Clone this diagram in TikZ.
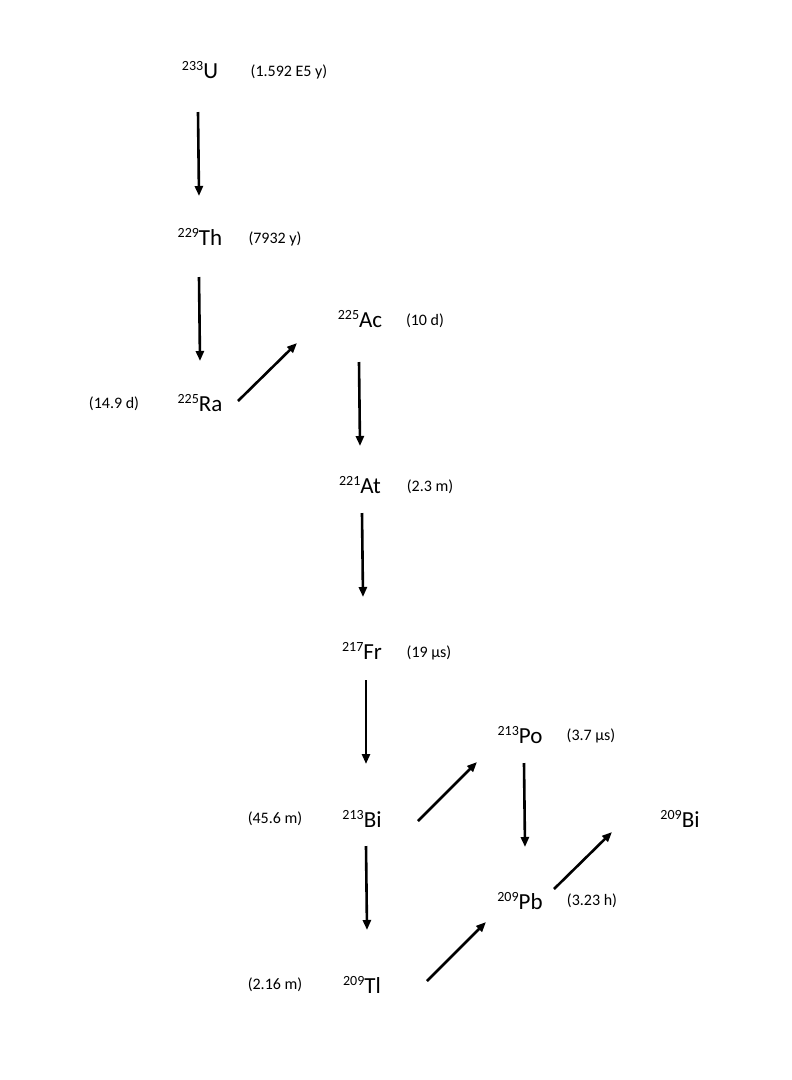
\documentclass[tikz,border=0pt]{standalone}
\usepackage{fontspec}
\setmainfont{Carlito}
\usetikzlibrary{arrows.meta}
\newcommand\iso[2]{\raisebox{8pt}{\fontsize{14}{14}\selectfont #1}#2}
\begin{document}
\begin{tikzpicture}[x=1pt,y=-1pt,
  el/.style={inner sep=0pt,font=\fontsize{23}{23}\selectfont},
  hl/.style={inner sep=0pt,font=\fontsize{16}{16}\selectfont},
  arr/.style={line width=2.6pt,-{Triangle[length=10pt,width=8pt]}}]
\useasboundingbox (0,0) rectangle (792,1080);
\node[el] (U) at (200,70) {\iso{233}{U}};
\node[hl] (tU) at (289,72) {(1.592 E5 y)};
\node[el] (Th) at (200,237) {\iso{229}{Th}};
\node[hl] (tTh) at (275,239) {(7932 y)};
\node[el] (Ra) at (200,403) {\iso{225}{Ra}};
\node[hl] (tRa) at (114,404) {(14.9 d)};
\node[el] (Ac) at (360,319) {\iso{225}{Ac}};
\node[hl] (tAc) at (425,321) {(10 d)};
\node[el] (At) at (360,485) {\iso{221}{At}};
\node[hl] (tAt) at (430,487) {(2.3 m)};
\node[el] (Fr) at (362,651) {\iso{217}{Fr}};
\node[hl] (tFr) at (429,653) {(19 µs)};
\node[el] (Bi) at (362,819) {\iso{213}{Bi}};
\node[hl] (tBi) at (275,819) {(45.6 m)};
\node[el] (Po) at (520,735) {\iso{213}{Po}};
\node[hl] (tPo) at (591,736) {(3.7 µs)};
\node[el] (Pb) at (520,901) {\iso{209}{Pb}};
\node[hl] (tPb) at (592,901) {(3.23 h)};
\node[el] (Tl) at (362,985) {\iso{209}{Tl}};
\node[hl] (tTl) at (275,985) {(2.16 m)};
\node[el] (Bf) at (680,819) {\iso{209}{Bi}};
\coordinate (a1) at (198,112); \coordinate (b1) at (199,196);
\coordinate (a2) at (199,277); \coordinate (b2) at (200,361);
\coordinate (a3) at (238,401); \coordinate (b3) at (297,343);
\coordinate (a4) at (359,362); \coordinate (b4) at (360,446);
\coordinate (a5) at (362,513); \coordinate (b5) at (363,597);
\coordinate (a6) at (366,680); \coordinate (b6) at (366,764);
\coordinate (a7) at (418,821); \coordinate (b7) at (477,762);
\coordinate (a8) at (366,846); \coordinate (b8) at (367,930);
\coordinate (a9) at (524,763); \coordinate (b9) at (525,847);
\coordinate (a10) at (427,981); \coordinate (b10) at (486,922);
\coordinate (a11) at (554,889); \coordinate (b11) at (612,832);
\foreach \i in {1,...,11} \draw[arr] (a\i) -- (b\i);
\end{tikzpicture}
\end{document}
